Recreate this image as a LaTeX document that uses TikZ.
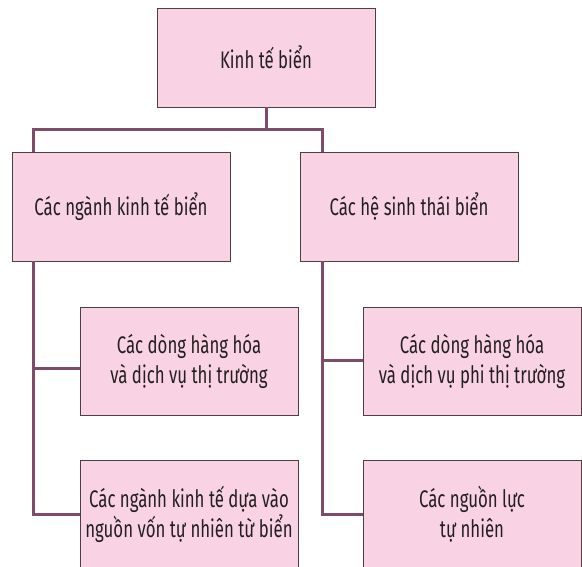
\documentclass[tikz,border=0pt]{standalone}
\usepackage{fontspec}
\setmainfont{Fira Sans}[FakeStretch=0.70]
\usepackage{tikz}
\definecolor{boxpink}{HTML}{F9D3E4}
\definecolor{boxline}{HTML}{4E3E46}
\definecolor{linkcol}{HTML}{7E4B68}
\definecolor{textcol}{HTML}{231F20}
\tikzset{box/.style={draw=boxline, fill=boxpink, line width=0.9pt,
    minimum width=218pt, minimum height=108pt, align=center,
    text=textcol, font=\fontsize{24}{30}\selectfont}}
\tikzset{link/.style={draw=linkcol, line width=3pt, line join=miter}}

\begin{document}
\begin{tikzpicture}[x=1pt,y=-1pt]
                \useasboundingbox (0,0) rectangle (582,567);

                % Boxes
                \node[box, minimum height=99pt] (top) at (266,57.5) {Kinh tế biển};
                \node[box, minimum height=109pt] (lm) at (121,206.5) {Các ngành kinh tế biển};
                \node[box, minimum height=109pt] (rm) at (409,206.5) {Các hệ sinh thái biển};
                \node[box] (l1) at (189,361) {Các dòng hàng hóa\\và dịch vụ thị trường};
                \node[box] (l2) at (189,514) {Các ngành kinh tế dựa vào\\nguồn vốn tự nhiên từ biển};
                \node[box] (r1) at (472,361) {Các dòng hàng hóa\\và dịch vụ phi thị trường};
                \node[box] (r2) at (472,514) {Các nguồn lực\\tự nhiên};

                % Top bar
                \coordinate (hub) at (266,130);
                \draw[link] (top.south) -- (hub);
                \draw[link] ([xshift=-88pt]lm.north) |- (hub) -| ([xshift=-87pt]rm.north);

                % Left trunk
                \draw[link] ([xshift=-88pt]lm.south) |- ([yshift=-8pt]l1.west);
                \draw[link] ([xshift=-88pt]lm.south) |- (l2.west);

                % Right trunk
                \draw[link] ([xshift=-87pt]rm.south) |- (r1.west);
                \draw[link] ([xshift=-87pt]rm.south) |- (r2.west);
            \end{tikzpicture}
\end{document}
